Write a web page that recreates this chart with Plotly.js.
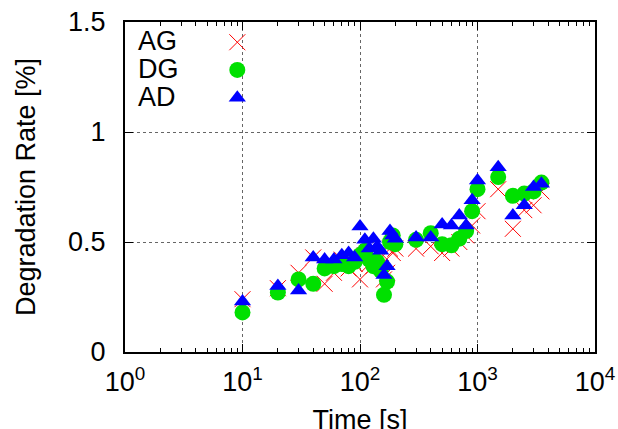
<!DOCTYPE html>
<html>
<head>
<meta charset="utf-8">
<script src="https://cdn.plot.ly/plotly-3.0.1.min.js"></script>
<style>
  html, body { margin: 0; padding: 0; background: #fff; overflow: hidden; }
  #chart { width: 618px; height: 440px; }
</style>
</head>
<body>
<div id="chart"></div>
<script>
// Measurement times [s]
const times = [10, 20, 30, 40, 50, 60, 70, 80, 90, 100,
               110, 120, 130, 140, 150, 160, 170, 180, 190, 200,
               300, 400, 500, 600, 700, 800, 900, 1000,
               1500, 2000, 2500, 3000, 3500];

// Degradation rate [%] per method
const rateAG = [0.24, 0.29, 0.36, 0.43, 0.31, 0.36, 0.42, 0.38, 0.40, 0.33,
                0.44, 0.40, 0.39, 0.43, 0.45, 0.33, 0.36, 0.47, 0.45, 0.47,
                0.47, 0.48, 0.45, 0.47, 0.50, 0.53, 0.575, 0.64,
                0.74, 0.56, 0.645, 0.667, 0.73];
const rateDG = [0.18, 0.27, 0.33, 0.31, 0.38, 0.39, 0.40, 0.39, 0.41, 0.44,
                0.46, 0.42, 0.39, 0.41, 0.37, 0.26, 0.32, 0.50, 0.53, 0.49,
                0.51, 0.54, 0.49, 0.485, 0.515, 0.55, 0.64, 0.74,
                0.795, 0.71, 0.72, 0.73, 0.77];
const rateAD = [0.23, 0.30, 0.28, 0.43, 0.42, 0.42, 0.44, 0.45, 0.43, 0.57,
                0.51, 0.47, 0.515, 0.48, 0.46, 0.35, 0.39, 0.55, 0.53, 0.515,
                0.52, 0.52, 0.58, 0.575, 0.62, 0.575, 0.69, 0.78,
                0.84, 0.62, 0.667, 0.75, 0.765];

const seriesNames = ['AG', 'DG', 'AD'];

const xTickVals = [1, 10, 100, 1000, 10000];
const xTickText = ['10<sup>0</sup>', '10<sup>1</sup>', '10<sup>2</sup>', '10<sup>3</sup>', '10<sup>4</sup>'];
const yTickVals = [0, 0.5, 1, 1.5];

const FONT = 'Liberation Sans, Arial, Helvetica, sans-serif';

const traces = [
  {
    x: times, y: rateAG, name: seriesNames[0], type: 'scatter', mode: 'markers',
    marker: { symbol: 'x-thin-open', size: 16, color: '#ff0000', line: { color: '#ff0000', width: 1 } }
  },
  {
    x: times, y: rateDG, name: seriesNames[1], type: 'scatter', mode: 'markers',
    marker: { symbol: 'circle', size: 16, color: '#00e000', line: { width: 0 } }
  },
  {
    x: times, y: rateAD, name: seriesNames[2], type: 'scatter', mode: 'markers',
    marker: { symbol: 'triangle-up', size: 15, color: '#0000ff', line: { width: 0 } }
  }
];

// Legend labels sit to the left of the symbols
const legendLabelY = [0.9415, 0.857, 0.773];
const annotations = seriesNames.map((name, i) => ({
  text: name, xref: 'paper', yref: 'paper', x: 0.024, y: legendLabelY[i],
  xanchor: 'left', yanchor: 'middle', showarrow: false,
  font: { family: FONT, size: 27, color: '#000' }
}));

const layout = {
  width: 618, height: 440,
  margin: { l: 125, r: 23, t: 22, b: 88 },
  paper_bgcolor: '#fff', plot_bgcolor: '#fff',
  font: { family: FONT, size: 27, color: '#000' },
  showlegend: true,
  legend: {
    x: 0.1964, xanchor: 'left', y: 0.9958, yanchor: 'top',
    bgcolor: 'rgba(0,0,0,0)', borderwidth: 0,
    font: { family: FONT, size: 19, color: 'rgba(0,0,0,0)' }
  },
  annotations: annotations,
  xaxis: {
    type: 'log', range: [0, 4],
    tickvals: xTickVals, ticktext: xTickText,
    ticks: 'inside', ticklen: 8, tickwidth: 1, tickcolor: '#000',
    minor: { ticks: 'inside', ticklen: 4, tickwidth: 1, tickcolor: '#000', dtick: 'D1', showgrid: false },
    showline: true, linecolor: '#000', linewidth: 2, mirror: 'ticks',
    showgrid: true, gridcolor: '#666666', griddash: 'dot', gridwidth: 1,
    zeroline: false,
    ticklabelstandoff: 5,
    tickfont: { family: FONT, size: 27, color: '#000' },
    title: { text: 'Time [s]', font: { family: FONT, size: 27, color: '#000' }, standoff: 14 }
  },
  yaxis: {
    range: [0, 1.5],
    tickvals: yTickVals,
    ticks: 'inside', ticklen: 8, tickwidth: 1, tickcolor: '#000',
    showline: true, linecolor: '#000', linewidth: 2, mirror: 'ticks',
    showgrid: true, gridcolor: '#666666', griddash: 'dot', gridwidth: 1,
    zeroline: false,
    ticklabelstandoff: 12,
    tickfont: { family: FONT, size: 27, color: '#000' },
    title: { text: 'Degradation Rate [%]', font: { family: FONT, size: 27, color: '#000' }, standoff: 25 }
  }
};

Plotly.newPlot('chart', traces, layout, { displayModeBar: false, responsive: false });
</script>
</body>
</html>
